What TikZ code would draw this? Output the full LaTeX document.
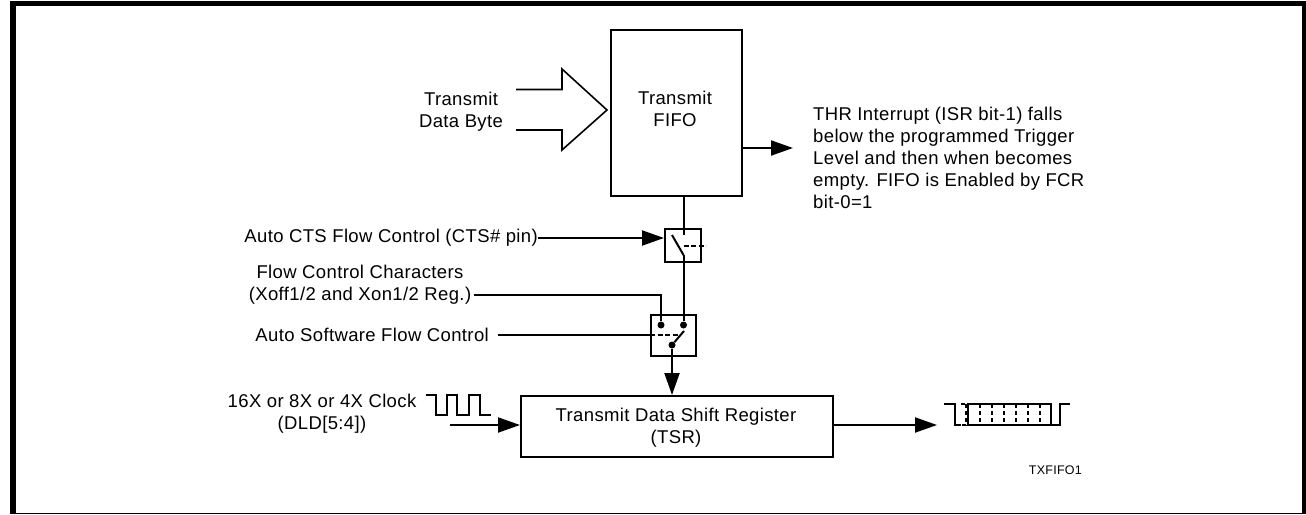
\documentclass[tikz,border=0pt]{standalone}
\usepackage{fontspec}
\setmainfont[LetterSpace=2]{Liberation Sans}
\usetikzlibrary{arrows.meta}
\tikzset{
 wire/.style={line width=2pt,draw=black},
 thin wire/.style={line width=1.6pt,draw=black},
 boxn/.style={draw=black,line width=2pt,fill=white,inner sep=0pt},
 lab/.style={font=\fontsize{18.5}{22}\selectfont,align=left,inner sep=0pt},
 labc/.style={lab,align=center},
 headtip/.style={-{Triangle[length=22pt,width=15pt]}},
 dd/.style={draw=black,line width=2pt,dash pattern=on 5pt off 2.5pt},
 dotn/.style={circle,fill=black,inner sep=0pt,minimum size=7pt},
}
\begin{document}
\begin{tikzpicture}[x=1pt,y=-1pt]
\useasboundingbox (0,0) rectangle (1306,514);
% frame
\fill[black] (10,1) rectangle (1306,6);
\fill[black] (10,1) rectangle (16,514);
\fill[black] (1302,1) rectangle (1306,514);
\fill[black] (10,513) rectangle (1306,514);
% boxes
\node[boxn,minimum width=131pt,minimum height=166pt,anchor=north west] (fifo) at (610,29) {};
\node[labc,anchor=center] (fifot) at (675,109) {Transmit\\FIFO};
\node[boxn,minimum width=36pt,minimum height=33pt,anchor=north west] (sw1) at (664,228) {};
\node[boxn,minimum width=45pt,minimum height=41pt,anchor=north west] (sw2) at (650,314) {};
\node[boxn,minimum width=312pt,minimum height=61pt,anchor=north west] (tsr) at (520,395) {};
\node[labc] (tsrt) at (676,428) {Transmit Data Shift Register\\(TSR)};
% open arrow
\coordinate (a1) at (516,89.5);
\coordinate (a2) at (562,89.5);
\coordinate (a3) at (562,69);
\coordinate (a4) at (607,110);
\coordinate (a5) at (562,150);
\coordinate (a6) at (562,130);
\coordinate (a7) at (516,130);
\draw[thin wire,line join=miter] (a1)--(a2)--(a3)--(a4)--(a5)--(a6)--(a7);
\node[labc] (tdb) at (461,112) {Transmit\\Data Byte};
% THR
\coordinate (thrE) at (793,148);
\draw[wire,headtip] (fifo.east |- thrE) -- (thrE);
\node[lab,anchor=west] (thr) at (813,158) {THR Interrupt (ISR bit-1) falls\\below the programmed Trigger\\Level and then when becomes\\empty. FIFO is Enabled by FCR\\bit-0=1};
% CTS
\node[lab,anchor=east] (cts) at (538,238) {Auto CTS Flow Control (CTS\# pin)};
\draw[wire,headtip] (cts.east) -- (cts.east -| sw1.west);
% switch 1
\coordinate (s1a) at (683.5,235);
\coordinate (s1b) at (672,235);
\coordinate (s1c) at (683.5,255);
\coordinate (s1d) at (706,245.7);
\coordinate (s1e) at (683.5,245.7);
\draw[wire] (s1a |- fifo.south) -- (s1a);
\draw[wire] (s1b) -- (s1c);
\draw[dd] (s1e) -- (s1d);
% switch 2
\node[dotn] (d1) at (661,325) {};
\node[dotn] (d2) at (683.5,325) {};
\node[dotn] (d3) at (672,345) {};
\draw[wire] (s1c) -- (d2);
\node[labc] (fcc) at (360,285) {Flow Control Characters\\(Xoff1/2 and Xon1/2 Reg.)};
\coordinate (fc1) at (661,295);
\draw[wire] (fcc.east |- fc1) ++(3,0) coordinate (fcS) -- (fc1) -- (d1);
\draw[wire] (d3) -- (684,331);
\node[lab,anchor=east] (asf) at (489,335) {Auto Software Flow Control};
\coordinate (asfE) at (678,335);
\draw[wire] (asf.east) ++(9,0) coordinate (asfS) -- (asfS -| sw2.west);
\draw[dd] (sw2.west |- asfE) -- (asfE);
\draw[wire,headtip] (d3) -- (d3 |- tsr.north);
% clock
\node[labc] (clk) at (322,414) {16X or 8X or 4X Clock\\(DLD[5:4])};
\draw[thin wire,line join=miter] (426,395)--(436,395)--(436,415)--(447,415)--(447,395)--(457,395)--(457,415)--(469,415)--(469,395)--(480,395)--(480,415)--(491,415);
\coordinate (ck) at (450,425);
\draw[wire,headtip] (ck) -- (ck -| tsr.west);
% output
\coordinate (outE) at (937,425);
\draw[wire,headtip] (tsr.east |- outE) -- (outE);
% waveform
\draw[thin wire,line join=miter] (944,404)--(955,404)--(955,425)--(961,425);
\draw[thin wire,dash pattern=on 4pt off 3pt] (961,404)--(966,404) (966,404)--(966,425)--(961,425);
\draw[thin wire] (968,404)--(968,425)--(1051,425)--(1051,404)--cycle;
\foreach \x in {980,992,1004,1016,1028,1040}{\draw[thin wire,dash pattern=on 4pt off 3pt] (\x,404)--(\x,425);}
\draw[thin wire,line join=miter] (1051,425)--(1060,425)--(1060,404)--(1070,404);
\node[lab,font=\fontsize{12.5}{15}\selectfont,anchor=east] (tx) at (1082,470) {TXFIFO1};
\end{tikzpicture}
\end{document}
